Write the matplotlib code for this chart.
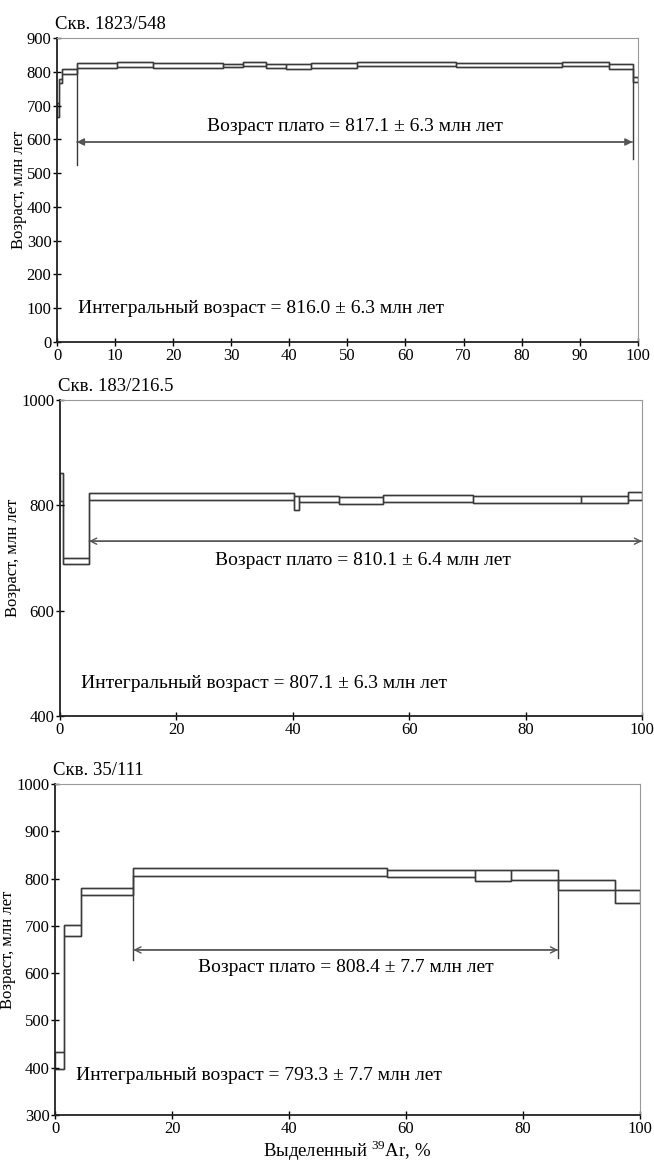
import matplotlib
matplotlib.use('Agg')
import matplotlib.pyplot as plt

plt.rcParams['font.family'] = ['Liberation Serif', 'DejaVu Serif']
plt.rcParams['mathtext.fontset'] = 'custom'
plt.rcParams['mathtext.rm'] = 'Liberation Serif'

# step spectra: cumulative 39Ar release (%), lower and upper age bounds (Ma)
edges1 = [0, 0.3, 0.9, 3.4, 10.3, 16.5, 28.6, 32.0, 36.0, 39.4, 43.7, 51.6, 68.7, 86.9, 95.0, 99.1, 100]
lo1 = [665, 766, 793, 811, 815, 812, 813, 816, 810, 808, 811, 816, 813, 816, 807, 771]
hi1 = [706, 779, 807, 825, 829, 826, 824, 830, 824, 822, 825, 830, 826, 830, 823, 784]

edges2 = [0, 0.5, 5.0, 40.2, 41.0, 48.0, 55.5, 71.0, 89.5, 97.6, 100]
lo2 = [808, 688, 811, 792, 806, 802, 807, 804, 804, 811]
hi2 = [862, 700, 824, 818, 817, 815, 820, 818, 818, 826]

edges3 = [0, 1.5, 4.4, 13.4, 56.8, 71.8, 77.9, 86.0, 95.7, 100]
lo3 = [397, 678, 766, 806, 803, 795, 797, 776, 749]
hi3 = [433, 702, 781, 822, 818, 818, 818, 797, 776]

titles = ['Скв. 1823/548', 'Скв. 183/216.5', 'Скв. 35/111']
plateau_txt = ['Возраст плато = 817.1 ± 6.3 млн лет',
               'Возраст плато = 810.1 ± 6.4 млн лет',
               'Возраст плато = 808.4 ± 7.7 млн лет']
integral_txt = ['Интегральный возраст = 816.0 ± 6.3 млн лет',
                'Интегральный возраст = 807.1 ± 6.3 млн лет',
                'Интегральный возраст = 793.3 ± 7.7 млн лет']
plateau_x = [(3.4, 99.1), (5.0, 100), (13.4, 86.0)]
plateau_y = [592, 732, 649]
plateau_lines = [(524, 541), None, (628, 632)]
plateau_txt_y = [639, 695, 611]
integral_y = [100, 462, 383]
ylims = [(0, 900), (400, 1000), (300, 1000)]
yticks = [range(0, 901, 100), range(400, 1001, 200), range(300, 1001, 100)]
xticks = [range(0, 101, 10), range(0, 101, 20), range(0, 101, 20)]

fig = plt.figure(figsize=(6.54, 11.68), dpi=100)
rects = [[0.0872, 0.7072, 0.888, 0.2603],
         [0.0917, 0.387, 0.890, 0.2705],
         [0.0841, 0.0454, 0.8945, 0.2834]]
data = [(edges1, lo1, hi1), (edges2, lo2, hi2), (edges3, lo3, hi3)]
heads = ['-|>', '->', '->']

for i, (edges, lo, hi) in enumerate(data):
    ax = fig.add_axes(rects[i])
    widths = [edges[k + 1] - edges[k] for k in range(len(lo))]
    heights = [hi[k] - lo[k] for k in range(len(lo))]
    ax.bar(edges[:-1], heights, width=widths, bottom=lo, align='edge',
           fill=False, edgecolor='#3a3a3a', linewidth=1.0)
    ax.stairs(hi, edges, baseline=None, color='#3a3a3a', linewidth=1.0)
    ax.stairs(lo, edges, baseline=None, color='#3a3a3a', linewidth=1.0)

    x0, x1 = plateau_x[i]
    if plateau_lines[i] is not None:
        k0 = edges.index(x0)
        k1 = edges.index(x1) - 1
        ax.plot([x0, x0], [plateau_lines[i][0], lo[k0]], color='#3a3a3a', lw=1.0)
        ax.plot([x1, x1], [plateau_lines[i][1], lo[k1]], color='#3a3a3a', lw=1.0)
    ax.annotate('', xy=(x0, plateau_y[i]), xytext=(x1, plateau_y[i]),
                arrowprops=dict(arrowstyle=heads[i], color='#555555', lw=1.0,
                                shrinkA=0, shrinkB=0, mutation_scale=11))
    ax.annotate('', xy=(x1, plateau_y[i]), xytext=(x0, plateau_y[i]),
                arrowprops=dict(arrowstyle=heads[i], color='#555555', lw=1.0,
                                shrinkA=0, shrinkB=0, mutation_scale=11))
    ax.text((x0 + x1) / 2 if i != 1 else 52, plateau_txt_y[i], plateau_txt[i],
            ha='center', va='center', fontsize=14)
    ax.text(3.6, integral_y[i], integral_txt[i], ha='left', va='center', fontsize=14)

    ax.set_xlim(0, 100)
    ax.set_ylim(*ylims[i])
    ax.set_xticks(list(xticks[i]))
    ax.set_yticks(list(yticks[i]))
    ax.tick_params(direction='inout', length=6, width=1, labelsize=12, pad=1)
    for s in ['left', 'bottom']:
        ax.spines[s].set_linewidth(1.3)
        ax.spines[s].set_color('#222222')
    for s in ['top', 'right']:
        ax.spines[s].set_linewidth(0.8)
        ax.spines[s].set_color('#999999')
    ax.set_ylabel('Возраст, млн лет', fontsize=12, labelpad=0)
    ax.text(-0.004, 1.015, titles[i], transform=ax.transAxes, ha='left', va='bottom',
            fontsize=13.5)
    if i == 2:
        ax.set_xlabel(r'Выделенный $^{39}$Ar, %', fontsize=13.5, labelpad=1)

fig.savefig('out.png', dpi=100)
